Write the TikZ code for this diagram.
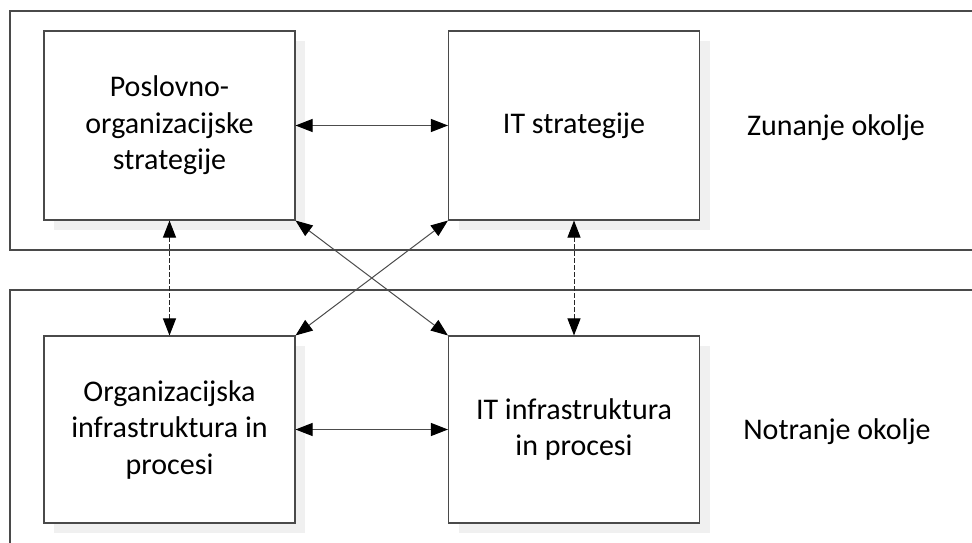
\documentclass[tikz,border=0pt]{standalone}
\usepackage{fontspec}
\setmainfont{Carlito}
\usetikzlibrary{arrows.meta,shadows}
\definecolor{edge}{HTML}{4A4A4A}
\definecolor{shade}{HTML}{F0F0F0}
\begin{document}
\begin{tikzpicture}[x=1pt,y=-1pt,
  blockbox/.style={draw=edge,line width=1.1pt,fill=white,minimum width=251pt,
    minimum height=189pt,align=center,inner sep=0pt,
    font=\fontsize{30}{36.5}\selectfont,
    general shadow={fill=shade,shadow xshift=10pt,shadow yshift=-10pt}},
  band/.style={draw=edge,line width=1.2pt},
  tip/.style={Triangle[length=17pt,width=13pt,fill=black,color=black]},
  link/.style={draw=black!70,line width=1pt,{Triangle[length=17pt,width=13pt,color=black]}-{Triangle[length=17pt,width=13pt,color=black]}},
  dlink/.style={link,draw=black!85,dash pattern=on 4.5pt off 2.5pt},
  zone/.style={font=\fontsize{30}{36}\selectfont,anchor=center}]
\useasboundingbox (0,0) rectangle (972,543);
\fill[white] (0,0) rectangle (972,543);
% environment bands
\draw[band] (972,11) -- (10,11) -- (10,250) -- (972,250);
\draw[band] (972,290) -- (10,290) -- (10,543);
% strategy and infrastructure blocks
\node[blockbox] (ps) at (169.5,125.5) {Poslovno-\\organizacijske\\strategije};
\node[blockbox] (its) at (574,125.5) {IT strategije};
\node[blockbox,minimum height=187pt] (oi) at (169.5,429.5) {Organizacijska\\infrastruktura in\\procesi};
\node[blockbox,minimum height=187pt] (iti) at (574,429.5) {IT infrastruktura\\in procesi};
% environment labels
\node[zone] (zun) at (836,128) {Zunanje okolje};
\node[zone] (notr) at (837,432) {Notranje okolje};
% alignment links
\draw[link] (ps.east) -- (its.west);
\draw[link] (oi.east) -- (iti.west);
\draw[dlink] (ps.south) -- (oi.north);
\draw[dlink] (its.south) -- (iti.north);
\draw[link] (ps.south east) -- (iti.north west);
\draw[link] (its.south west) -- (oi.north east);
\end{tikzpicture}
\end{document}
